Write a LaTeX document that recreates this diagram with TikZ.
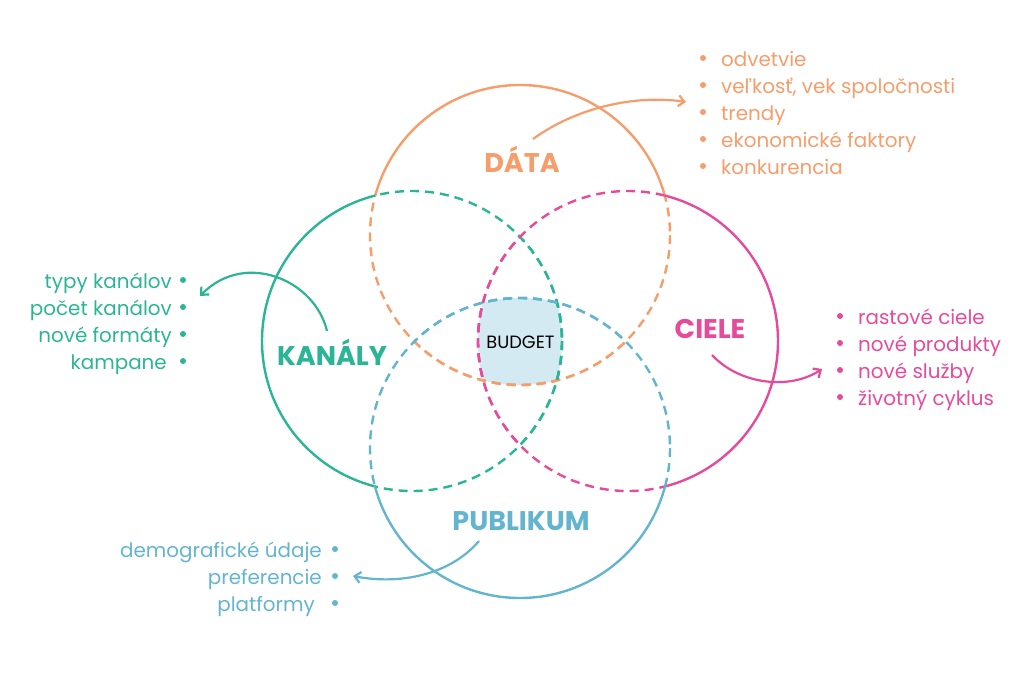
\documentclass[tikz,border=0pt]{standalone}
\usepackage{fontspec}
\setmainfont{Poppins}
\usetikzlibrary{arrows.meta}
\definecolor{VennOrange}{HTML}{F59D6B}
\definecolor{VennTeal}{HTML}{2BB596}
\definecolor{VennPink}{HTML}{E54A9B}
\definecolor{VennBlue}{HTML}{63B5CF}
\definecolor{VennCore}{HTML}{D3EAF2}
\tikzset{
  ring/.style={line width=2.4pt},
  dashed ring/.style={dash pattern=on 9pt off 6pt},
  pointer/.style={-{Straight Barb[length=6pt,width=11pt]},line width=2.2pt},
  title/.style={anchor=base,font=\fontsize{27}{30}\selectfont\bfseries},
  entry/.style={font=\fontsize{19.9}{22}\selectfont},
}
% one circle: solid outside the others, dashed inside them
\newcommand\vennring[5]{%
  \begin{scope}[even odd rule]
    \clip (0,0) rectangle (1024,683) (#2) circle[radius=150];
    \clip (0,0) rectangle (1024,683) (#3) circle[radius=150];
    \clip (0,0) rectangle (1024,683) (#4) circle[radius=150];
    \draw[ring,#5] (#1) circle[radius=150];
  \end{scope}
  \foreach \other in {#2,#3,#4}{
    \begin{scope}
      \clip (\other) circle[radius=150];
      \draw[ring,dashed ring,#5] (#1) circle[radius=150];
    \end{scope}}%
}
\begin{document}
\begin{tikzpicture}[x=1pt,y=-1pt]
  \useasboundingbox (0,0) rectangle (1024,683);

  \coordinate (data) at (520,235);
  \coordinate (kan) at (412,341);
  \coordinate (ciel) at (628,341);
  \coordinate (pub) at (520,448);

  % common part
  \begin{scope}
    \clip (data) circle[radius=150];
    \clip (kan) circle[radius=150];
    \clip (ciel) circle[radius=150];
    \fill[VennCore] (pub) circle[radius=150];
  \end{scope}

  \vennring{data}{kan}{ciel}{pub}{VennOrange}
  \vennring{kan}{data}{ciel}{pub}{VennTeal}
  \vennring{ciel}{data}{kan}{pub}{VennPink}
  \vennring{pub}{data}{kan}{ciel}{VennBlue}

  \node[anchor=base,font=\fontsize{17.8}{20}\selectfont] (budget) at (520.5,348) {BUDGET};

  \node[title,text=VennOrange] (dataTitle) at (522,172) {DÁTA};
  \node[title,text=VennTeal] (kanTitle) at (332,365) {KANÁLY};
  \node[title,text=VennPink] (cielTitle) at (710,338) {CIELE};
  \node[title,text=VennBlue] (pubTitle) at (521,530) {PUBLIKUM};

  % lists
  \foreach \entry [count=\i] in {odvetvie,{veľkosť, vek spoločnosti},trendy,
      ekonomické faktory,konkurencia}{
    \fill[VennOrange] (703,31+27*\i) circle[radius=3];
    \node[entry,text=VennOrange,anchor=base west,inner sep=0pt]
      (dataItem\i) at (721,39+27*\i) {\entry};
  }
  \foreach \entry/\dx [count=\i] in {typy kanálov/0,počet kanálov/0,
      nové formáty/0,kampane/5}{
    \fill[VennTeal] (183,253+27*\i) circle[radius=3];
    \node[entry,text=VennTeal,anchor=base east,inner sep=0pt]
      (kanItem\i) at (172-\dx,261+27*\i) {\entry};
  }
  \foreach \entry [count=\i] in {rastové ciele,nové produkty,nové služby,
      životný cyklus}{
    \fill[VennPink] (840,289+27*\i) circle[radius=3];
    \node[entry,text=VennPink,anchor=base west,inner sep=0pt]
      (cielItem\i) at (858,297+27*\i) {\entry};
  }
  \foreach \entry/\dx [count=\i] in {demografické údaje/0,preferencie/0,
      platformy/7}{
    \fill[VennBlue] (335,522+27*\i) circle[radius=3];
    \node[entry,text=VennBlue,anchor=base east,inner sep=0pt]
      (pubItem\i) at (322-\dx,530+27*\i) {\entry};
  }

  % pointers
  \coordinate (dataFrom) at (533,139);
  \coordinate (dataTo) at (686,102);
  \coordinate (kanFrom) at (327,331);
  \coordinate (kanTo) at (200,296);
  \coordinate (cielFrom) at (712,355);
  \coordinate (cielTo) at (822,369);
  \coordinate (pubFrom) at (479,541);
  \coordinate (pubTo) at (353,576);

  \draw[pointer,VennOrange] (dataFrom) .. controls (580,105) and (640,95) .. (dataTo);
  \draw[pointer,VennTeal] (kanFrom) .. controls (315,280) and (245,250) .. (kanTo);
  \draw[pointer,VennPink] (cielFrom) .. controls (740,385) and (790,390) .. (cielTo);
  \draw[pointer,VennBlue] (pubFrom) .. controls (450,575) and (400,585) .. (pubTo);

\end{tikzpicture}
\end{document}
